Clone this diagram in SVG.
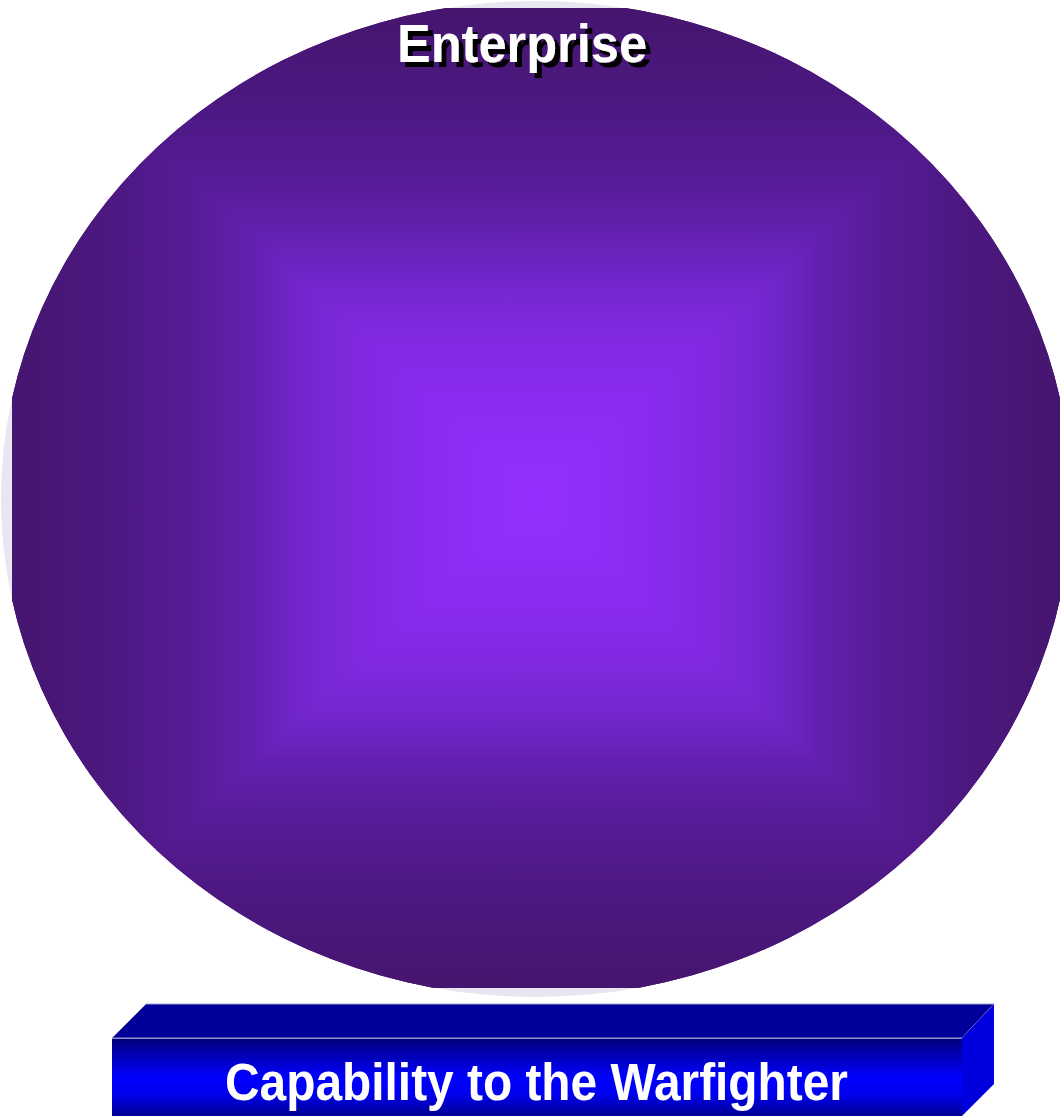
<svg xmlns="http://www.w3.org/2000/svg" width="1060" height="1116" viewBox="0 0 1060 1116">
  <defs>
    <clipPath id="ellClip">
      <rect x="12" y="8" width="1070" height="980"/>
    </clipPath>
    <clipPath id="ellShape">
      <ellipse cx="536" cy="499" rx="535" ry="498"/>
    </clipPath>
    <linearGradient id="gTop" gradientUnits="userSpaceOnUse" x1="0" y1="0" x2="0" y2="499">
      <stop offset="0" stop-color="#44156d"/>
      <stop offset="0.2" stop-color="#4c1880"/>
      <stop offset="0.35" stop-color="#561b96"/>
      <stop offset="0.47" stop-color="#6420b0"/>
      <stop offset="0.56" stop-color="#7226cc"/>
      <stop offset="0.67" stop-color="#8029e0"/>
      <stop offset="0.8" stop-color="#8a2bf0"/>
      <stop offset="1" stop-color="#9430ff"/>
    </linearGradient>
    <linearGradient id="gBot" href="#gTop" gradientUnits="userSpaceOnUse" x1="0" y1="998" x2="0" y2="499"/>
    <linearGradient id="gLeft" href="#gTop" gradientUnits="userSpaceOnUse" x1="0" y1="0" x2="536" y2="0"/>
    <linearGradient id="gRight" href="#gTop" gradientUnits="userSpaceOnUse" x1="1072" y1="0" x2="536" y2="0"/>
    <radialGradient id="gBase" gradientUnits="userSpaceOnUse" cx="536" cy="499" r="536">
      <stop offset="0" stop-color="#9430ff"/>
      <stop offset="1" stop-color="#44156d"/>
    </radialGradient>
    <linearGradient id="gFront" x1="0" y1="0" x2="0" y2="1">
      <stop offset="0" stop-color="#00007a"/>
      <stop offset="0.5" stop-color="#0000ff"/>
      <stop offset="0.7" stop-color="#0000ee"/>
      <stop offset="1" stop-color="#000088"/>
    </linearGradient>
    <filter id="shadow" x="-10%" y="-20%" width="130%" height="150%">
      <feOffset in="SourceAlpha" dx="5" dy="5" result="off"/>
      <feFlood flood-color="#000000"/>
      <feComposite in2="off" operator="in" result="sh"/>
      <feMerge>
        <feMergeNode in="sh"/>
        <feMergeNode in="SourceGraphic"/>
      </feMerge>
    </filter>
    <style>
      .title { font-family: "Liberation Sans", Arial, sans-serif; font-weight: bold; text-anchor: middle; }
    </style>
  </defs>

  <rect width="1060" height="1116" fill="#ffffff"/>

  <g id="enterprise">
    <ellipse cx="536" cy="499" rx="535" ry="498" fill="#e9e6f1"/>
    <g clip-path="url(#ellClip)">
      <g clip-path="url(#ellShape)">
        <rect x="0" y="0" width="1072" height="998" fill="url(#gBase)"/>
        <polygon points="-1,-1 1073,-1 536,499" fill="url(#gTop)"/>
        <polygon points="-1,999 1073,999 536,499" fill="url(#gBot)"/>
        <polygon points="-1,-1 -1,999 536,499" fill="url(#gLeft)"/>
        <polygon points="1073,-1 1073,999 536,499" fill="url(#gRight)"/>
      </g>
    </g>
    <text class="title" x="522" y="62" font-size="53" fill="#ffffff" textLength="250" lengthAdjust="spacingAndGlyphs" filter="url(#shadow)">Enterprise</text>
  </g>

  <g id="capability">
    <polygon points="112,1038 146,1004 994,1004 962,1038" fill="#000099" stroke="#9c9cd4" stroke-width="1"/>
    <polygon points="962,1038 994,1004 994,1084 962,1116" fill="#0000de"/>
    <rect x="112" y="1038" width="850" height="80" fill="url(#gFront)"/>
    <line x1="112" y1="1038.5" x2="962" y2="1038.5" stroke="#8c8cd0" stroke-width="1"/>
    <text class="title" x="536.5" y="1100" font-size="51" fill="#ffffff" textLength="623" lengthAdjust="spacingAndGlyphs">Capability to the Warfighter</text>
  </g>

  <g id="connectors"/>
</svg>
